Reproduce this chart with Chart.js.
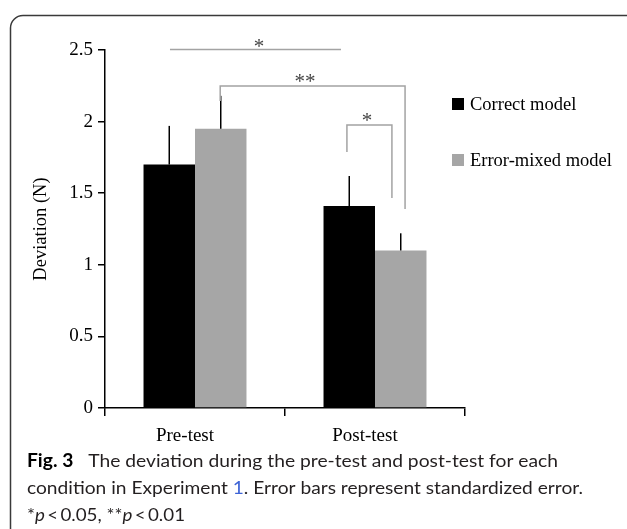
<!DOCTYPE html>
<html>
<head>
<meta charset="utf-8">
<script src="https://cdn.jsdelivr.net/npm/chart.js@4.4.1/dist/chart.umd.min.js"></script>
<style>
  html, body { margin: 0; padding: 0; background: #fff; }
  #wrap { width: 627px; height: 529px; }
</style>
</head>
<body>
<div id="wrap"><canvas id="deviationChart" width="627" height="529"></canvas></div>
<script>
// data
const phases = ['Pre-test', 'Post-test']
const seriesNames = ['Correct model', 'Error-mixed model']
const correctMean = [1.70, 1.41]
const correctErr = [0.27, 0.21]
const mixedMean = [1.95, 1.10]
const mixedErr = [0.23, 0.12]
const yMin = 0
const yMax = 2.5
const yStep = 0.5

// significance marks, in category / value units
const sigMarks = [
  { x0: -0.139, x1: 0.811, top: 2.503, leg0: 2.503, leg1: 2.503, text: '*', tx: 0.356, ty: 2.559 },
  { x0: 0.14, x1: 1.167, top: 2.249, leg0: 2.144, leg1: 1.39, text: '**', tx: 0.611, ty: 2.318 },
  { x0: 0.844, x1: 1.094, top: 1.976, leg0: 1.788, leg1: 1.466, text: '*', tx: 0.956, ty: 2.046 }
]

const blackColor = '#000000'
const greyColor = '#a6a6a6'
const markColor = '#a3a3a3'
const serif = '"Liberation Serif", "Times New Roman", serif'
const sans = 'Lato, "Open Sans", sans-serif'

const errors = [correctErr, mixedErr]

function drawRich(ctx, parts, x, y, width) {
  var textW = 0, gapW = 0
  parts.forEach(function (p) {
    if (p.gap) { gapW += p.gap; return }
    ctx.font = p.font
    p.w = ctx.measureText(p.text).width
    textW += p.w
  })
  var s = (width - gapW) / textW
  var cx = x
  parts.forEach(function (p) {
    if (p.gap) { cx += p.gap; return }
    ctx.save()
    ctx.font = p.font
    ctx.fillStyle = p.color || '#231f20'
    ctx.textAlign = 'left'
    ctx.textBaseline = 'alphabetic'
    ctx.translate(cx, y)
    ctx.scale(s, 1)
    ctx.fillText(p.text, 0, 0)
    ctx.restore()
    cx += p.w * s
  })
}

const extras = {
  id: 'extras',
  beforeDraw(chart) {
    const ctx = chart.ctx
    // frame around the figure
    ctx.save()
    ctx.strokeStyle = '#3a3a3a'
    ctx.lineWidth = 1.5
    ctx.beginPath()
    ctx.moveTo(10.5, 540)
    ctx.lineTo(10.5, 28)
    ctx.arcTo(10.5, 15.5, 23, 15.5, 12.5)
    ctx.lineTo(640, 15.5)
    ctx.stroke()
    ctx.restore()
  },
  afterDatasetsDraw(chart) {
    const ctx = chart.ctx
    const xs = chart.scales.x
    const ys = chart.scales.y
    const area = chart.chartArea

    // error bars (upper half only)
    ctx.save()
    ctx.strokeStyle = '#000'
    ctx.lineWidth = 1.5
    chart.data.datasets.forEach(function (ds, di) {
      chart.getDatasetMeta(di).data.forEach(function (bar, i) {
        var top = ys.getPixelForValue(ds.data[i] + errors[di][i])
        ctx.beginPath()
        ctx.moveTo(bar.x, bar.y)
        ctx.lineTo(bar.x, top)
        ctx.stroke()
      })
    })
    ctx.restore()

    // significance brackets
    ctx.save()
    ctx.strokeStyle = markColor
    ctx.lineWidth = 1.5
    sigMarks.forEach(function (m) {
      var x0 = xs.getPixelForValue(m.x0), x1 = xs.getPixelForValue(m.x1)
      var yt = ys.getPixelForValue(m.top)
      ctx.beginPath()
      ctx.moveTo(x0, ys.getPixelForValue(m.leg0))
      ctx.lineTo(x0, yt)
      ctx.lineTo(x1, yt)
      ctx.lineTo(x1, ys.getPixelForValue(m.leg1))
      ctx.stroke()
      ctx.fillStyle = '#444'
      ctx.font = '21px ' + serif
      ctx.textAlign = 'center'
      ctx.textBaseline = 'middle'
      ctx.fillText(m.text, xs.getPixelForValue(m.tx), ys.getPixelForValue(m.ty) + 6)
    })
    ctx.restore()

    // legend
    ctx.save()
    chart.data.datasets.forEach(function (ds, di) {
      var ly = area.top + 54 + di * 56
      var lx = area.right - 13
      ctx.fillStyle = ds.backgroundColor
      ctx.fillRect(lx, ly - 6, 12, 12)
      ctx.fillStyle = '#000'
      ctx.font = '18.5px ' + serif
      ctx.textAlign = 'left'
      ctx.textBaseline = 'middle'
      ctx.fillText(ds.label, lx + 18, ly + 1)
    })
    ctx.restore()

    // caption
    var reg = '18px ' + sans
    var bold = 'bold 18px ' + sans
    var ital = 'italic 18px ' + sans
    drawRich(ctx, [
      { text: 'Fig. 3', font: bold, color: '#000' },
      { gap: 15 },
      { text: 'The deviation during the pre-test and post-test for each', font: reg }
    ], 27, 467, 531)
    drawRich(ctx, [
      { text: 'condition in Experiment ', font: reg },
      { text: '1', font: reg, color: '#3d63d6' },
      { text: '. Error bars represent standardized error.', font: reg }
    ], 27, 494, 556)
    drawRich(ctx, [
      { text: '*', font: reg },
      { text: 'p', font: ital },
      { text: '\u2009<\u20090.05, **', font: reg },
      { text: 'p', font: ital },
      { text: '\u2009<\u20090.01', font: reg }
    ], 27, 521, 158)
  }
}

var ctx = document.getElementById('deviationChart')
var chart = new Chart(ctx, {
  type: 'bar',
  data: {
    labels: phases,
    datasets: [{
      label: seriesNames[0],
      data: correctMean,
      backgroundColor: blackColor,
      borderWidth: 0,
      categoryPercentage: 0.572,
      barPercentage: 1.0
    }, {
      label: seriesNames[1],
      data: mixedMean,
      backgroundColor: greyColor,
      borderWidth: 0,
      categoryPercentage: 0.572,
      barPercentage: 1.0
    }]
  },
  options: {
    responsive: false,
    animation: false,
    layout: { padding: { left: 0, right: 162, top: 50, bottom: 81 } },
    plugins: { legend: { display: false }, tooltip: { enabled: false } },
    scales: {
      x: {
        afterFit: function (scale) { scale.height = 40 },
        border: { display: true, color: '#000', width: 1.5 },
        grid: { display: true, drawOnChartArea: false, drawTicks: true, tickLength: 8, color: '#000', lineWidth: 1.5 },
        ticks: { color: '#000', font: { family: serif, size: 19 }, padding: 9, labelOffset: -10 }
      },
      y: {
        min: yMin,
        max: yMax,
        afterFit: function (scale) { scale.width = 105 },
        border: { display: true, color: '#000', width: 1.5 },
        grid: { display: true, drawOnChartArea: false, drawTicks: true, tickLength: 7, color: '#000', lineWidth: 1.5 },
        ticks: {
          stepSize: yStep, color: '#000', font: { family: serif, size: 19 }, padding: 5,
          callback: function (value) { return String(Number(value.toFixed(1))) }
        },
        title: { display: true, text: 'Deviation (N)', color: '#000', font: { family: serif, size: 18.5 }, padding: { top: 30, bottom: 0 } }
      }
    }
  },
  plugins: [extras]
})
</script>
</body>
</html>
